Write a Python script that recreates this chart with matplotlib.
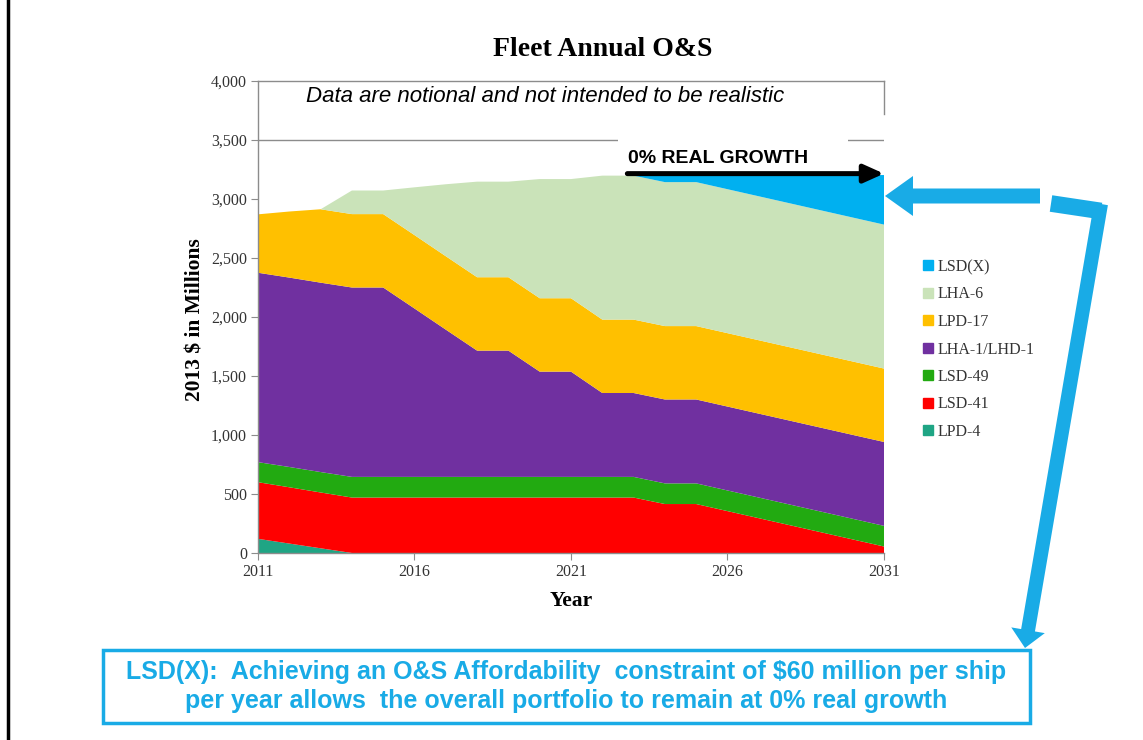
import matplotlib
matplotlib.use('Agg')
import matplotlib.pyplot as plt
from matplotlib.lines import Line2D
from matplotlib.patches import FancyArrow, Rectangle
from matplotlib.ticker import FuncFormatter

# Дані (млн $ 2013 року), по роках 2011-2031
years = list(range(2011, 2032))
lpd4 = [120, 80, 40] + [0] * 18
lsd41 = [480, 477, 473] + [470] * 10 + [415, 415, 355, 295, 235, 175, 115, 55]
lsd49 = [170, 172, 173] + [175] * 18
lha1 = [1605] * 5 + [1427, 1248, 1070, 1070, 892, 892] + [711] * 10
lpd17 = [495, 560] + [622] * 19
lha6 = [0, 0, 0, 200, 200, 405, 610, 810, 810, 1010, 1010] + [1220] * 10
lsdx = [0] * 13 + [60, 60, 120, 180, 240, 300, 360, 420]

series_names = ['LPD-4', 'LSD-41', 'LSD-49', 'LHA-1/LHD-1', 'LPD-17', 'LHA-6', 'LSD(X)']
series_colors = ['#1fa584', '#ff0000', '#22aa11', '#7030a0', '#ffc000', '#cae3b9', '#00b0f0']

y_ticks = [0, 500, 1000, 1500, 2000, 2500, 3000, 3500, 4000]
x_ticks = [2011, 2016, 2021, 2026, 2031]

W, H = 1143, 740
blue = '#19abe6'
grey = '#8c8c8c'
serif = 'Liberation Serif'
sans = 'Liberation Sans'

fig = plt.figure(figsize=(W / 100, H / 100), dpi=100)
ax = fig.add_axes([258 / W, 1 - 553 / H, (884 - 258) / W, (553 - 81) / H])

# Складена діаграма з областями
ax.stackplot(years, lpd4, lsd41, lsd49, lha1, lpd17, lha6, lsdx,
             colors=series_colors, labels=series_names, linewidth=0, zorder=2)

ax.set_xlim(2011, 2031)
ax.set_ylim(0, 4000)
ax.set_xticks(x_ticks)
ax.set_yticks(y_ticks)
ax.yaxis.set_major_formatter(FuncFormatter(lambda v, p: f'{int(v):,}'))
# видно лише верхню лінію сітки
ax.axhline(3500, color=grey, lw=1, zorder=1)
for side in ['left', 'top', 'bottom', 'right']:
    ax.spines[side].set_color(grey)
    ax.spines[side].set_linewidth(1)
ax.spines['right'].set_bounds(3720, 4000)
ax.tick_params(direction='out', length=5, color=grey, pad=3, labelcolor='#333333')
for lbl in ax.get_xticklabels() + ax.get_yticklabels():
    lbl.set_fontfamily(serif)
    lbl.set_fontsize(11.5)

# Підписи
fig.text(603 / W, 1 - 56 / H, 'Fleet Annual O&S', ha='center', va='baseline',
         fontsize=20, fontweight='bold', family=serif)
fig.text(195 / W, 1 - 320 / H, '2013 $ in Millions', ha='center', va='center',
         rotation=90, fontsize=15.5, fontweight='bold', family=serif)
fig.text(571 / W, 1 - 601 / H, 'Year', ha='center', va='center',
         fontsize=15.5, fontweight='bold', family=serif)
fig.text(545 / W, 1 - 97 / H, 'Data are notional and not intended to be realistic',
         ha='center', va='center', fontsize=16, style='italic', family=sans)

# Легенда (від верхньої області до нижньої)
handles = [Line2D([], [], marker='s', ls='', markersize=6.5, color=c)
           for c in series_colors[::-1]]
leg = ax.legend(handles, series_names[::-1], loc='upper left',
                bbox_to_anchor=(922 / W, 1 - 259 / H), bbox_transform=fig.transFigure,
                frameon=False, borderpad=0, borderaxespad=0, handlelength=0.7,
                handletextpad=0.25, labelspacing=0.72,
                prop={'family': serif, 'size': 11.5})
for t in leg.get_texts():
    t.set_color('#333333')

# Стрілка "0% REAL GROWTH"
ax.annotate('', xy=(2031, 3215), xytext=(2022.8, 3215), annotation_clip=False,
            arrowprops=dict(arrowstyle='-|>,head_length=0.6,head_width=0.27',
                            lw=3.6, color='black', mutation_scale=20,
                            shrinkA=0, shrinkB=0))

# Накладка в пікселях для стрілок і рамки
ov = fig.add_axes([0, 0, 1, 1])
ov.set_xlim(0, W)
ov.set_ylim(H, 0)
ov.axis('off')
ov.patch.set_alpha(0)

ov.add_patch(Rectangle((618, 134), 230, 14, color='white', lw=0))
ov.text(628, 163, '0% REAL GROWTH', ha='left', va='baseline', fontsize=14,
        fontweight='bold', family=sans)

ov.plot([8, 8], [0, H], color='black', lw=2.5)

ov.add_patch(FancyArrow(1040, 196, -155, 0, width=15, head_width=40, head_length=28,
                        length_includes_head=True, color=blue, lw=0))
ov.plot([1051, 1101], [203.5, 211], color=blue, lw=12, solid_capstyle='butt')
ov.add_patch(FancyArrow(1101, 204, -76, 444, width=14, head_width=34, head_length=18,
                        length_includes_head=True, color=blue, lw=0))

ov.add_patch(Rectangle((103, 650), 927, 73, fill=False, edgecolor=blue, lw=2.5))
ov.text(566, 672, 'LSD(X):  Achieving an O&S Affordability  constraint of $60 million per ship',
        ha='center', va='center', fontsize=18, fontweight='bold', color=blue, family=sans)
ov.text(566, 701, 'per year allows  the overall portfolio to remain at 0% real growth',
        ha='center', va='center', fontsize=18, fontweight='bold', color=blue, family=sans)

fig.savefig('out.png', dpi=100)
